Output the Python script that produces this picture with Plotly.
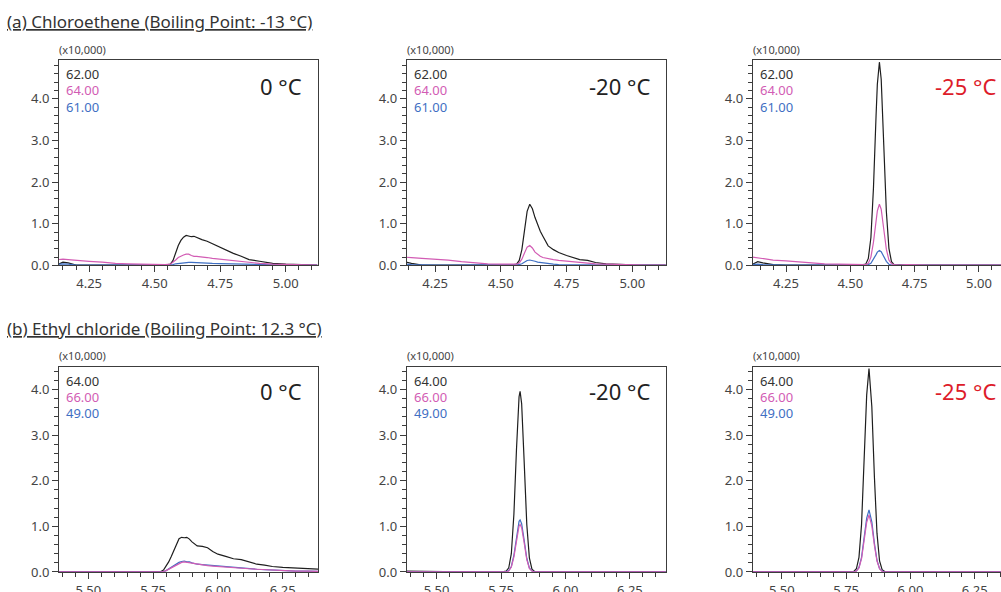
import plotly.graph_objects as go

W, H = 1001, 602
SY = H / 592.0  # vertical factor between the reference picture and the figure

# ---------------- data ----------------
# (a) Chloroethene, 0 °C
a0_x = [4.13, 4.15, 4.17, 4.20, 4.25, 4.30, 4.35, 4.40, 4.45, 4.50, 4.54, 4.56, 4.57, 4.58, 4.59, 4.60, 4.61, 4.62,
        4.63, 4.64, 4.65, 4.66, 4.68, 4.70, 4.72, 4.75, 4.78, 4.80, 4.83, 4.86, 4.90, 4.95, 5.00, 5.05, 5.12]
a0_62 = [0.02, 0.08, 0.06, 0.01, 0.01, 0.01, 0.01, 0.01, 0.01, 0.01, 0.01, 0.03, 0.12, 0.30, 0.48, 0.60, 0.68, 0.72,
         0.71, 0.69, 0.70, 0.67, 0.62, 0.58, 0.52, 0.44, 0.35, 0.29, 0.22, 0.14, 0.10, 0.05, 0.03, 0.02, 0.01]
a0_64 = [0.14, 0.15, 0.14, 0.12, 0.10, 0.08, 0.05, 0.04, 0.03, 0.03, 0.02, 0.03, 0.07, 0.13, 0.19, 0.23, 0.25, 0.27,
         0.27, 0.24, 0.22, 0.22, 0.21, 0.19, 0.17, 0.15, 0.12, 0.11, 0.09, 0.07, 0.05, 0.03, 0.02, 0.02, 0.01]
a0_61 = [0.03, 0.04, 0.03, 0.01, 0.01, 0.01, 0.01, 0.01, 0.01, 0.01, 0.01, 0.01, 0.02, 0.04, 0.05, 0.06, 0.07, 0.07,
         0.075, 0.075, 0.07, 0.07, 0.065, 0.06, 0.05, 0.045, 0.04, 0.035, 0.03, 0.02, 0.015, 0.01, 0.01, 0.01, 0.01]

# (a) Chloroethene, -20 °C
a20_x = [4.13, 4.14, 4.16, 4.20, 4.25, 4.30, 4.35, 4.40, 4.45, 4.50, 4.54, 4.56, 4.57, 4.58, 4.59, 4.60, 4.61, 4.62,
         4.63, 4.64, 4.65, 4.66, 4.68, 4.70, 4.72, 4.75, 4.78, 4.80, 4.83, 4.86, 4.90, 4.95, 5.00, 5.05, 5.13]
a20_62 = [0.05, 0.08, 0.05, 0.01, 0.01, 0.01, 0.01, 0.01, 0.01, 0.01, 0.01, 0.03, 0.12, 0.38, 0.85, 1.30, 1.47, 1.36,
          1.15, 0.96, 0.82, 0.70, 0.47, 0.38, 0.31, 0.24, 0.17, 0.14, 0.12, 0.07, 0.04, 0.02, 0.015, 0.01, 0.01]
a20_64 = [0.20, 0.20, 0.19, 0.17, 0.15, 0.13, 0.09, 0.06, 0.04, 0.03, 0.02, 0.03, 0.06, 0.15, 0.30, 0.44, 0.48, 0.42,
          0.32, 0.26, 0.22, 0.19, 0.16, 0.14, 0.12, 0.10, 0.08, 0.07, 0.05, 0.04, 0.03, 0.02, 0.01, 0.01, 0.01]
a20_61 = [0.02, 0.03, 0.02, 0.01, 0.01, 0.01, 0.01, 0.01, 0.01, 0.01, 0.01, 0.01, 0.02, 0.04, 0.08, 0.12, 0.13, 0.12,
          0.10, 0.08, 0.07, 0.06, 0.04, 0.03, 0.02, 0.02, 0.01, 0.01, 0.01, 0.01, 0.01, 0.01, 0.01, 0.01, 0.01]

# (a) Chloroethene, -25 °C
a25_x = [4.12, 4.14, 4.16, 4.20, 4.25, 4.30, 4.35, 4.40, 4.45, 4.50, 4.54, 4.56, 4.57, 4.58, 4.59, 4.60, 4.605, 4.613,
         4.62, 4.63, 4.64, 4.65, 4.66, 4.67, 4.69, 4.72, 4.75, 4.80, 4.90, 5.00, 5.09]
a25_62 = [0.03, 0.09, 0.06, 0.02, 0.01, 0.01, 0.01, 0.01, 0.01, 0.01, 0.01, 0.03, 0.17, 0.67, 1.87, 3.59, 4.35, 4.88,
          4.47, 2.89, 1.30, 0.41, 0.09, 0.02, 0.01, 0.01, 0.01, 0.01, 0.01, 0.01, 0.01]
a25_64 = [0.20, 0.18, 0.16, 0.13, 0.11, 0.08, 0.06, 0.04, 0.03, 0.02, 0.02, 0.02, 0.05, 0.20, 0.56, 1.08, 1.31, 1.47,
          1.35, 0.87, 0.39, 0.13, 0.04, 0.02, 0.01, 0.02, 0.01, 0.01, 0.01, 0.01, 0.01]
a25_61 = [0.02, 0.03, 0.02, 0.01, 0.01, 0.01, 0.01, 0.01, 0.01, 0.01, 0.01, 0.01, 0.02, 0.05, 0.14, 0.26, 0.32, 0.36,
          0.33, 0.21, 0.10, 0.03, 0.01, 0.01, 0.01, 0.01, 0.01, 0.01, 0.01, 0.01, 0.01]

# (b) Ethyl chloride, 0 °C
b0_x = [5.38, 5.45, 5.50, 5.55, 5.60, 5.65, 5.70, 5.75, 5.78, 5.79, 5.80, 5.81, 5.82, 5.83, 5.84, 5.85, 5.86, 5.87,
        5.88, 5.89, 5.90, 5.92, 5.94, 5.96, 5.98, 6.00, 6.03, 6.06, 6.09, 6.12, 6.15, 6.18, 6.21, 6.25, 6.30, 6.35, 6.39]
b0_64 = [0.01, 0.01, 0.01, 0.01, 0.00, 0.00, 0.00, 0.00, 0.01, 0.04, 0.12, 0.22, 0.34, 0.47, 0.60, 0.73, 0.76, 0.75,
         0.76, 0.72, 0.66, 0.57, 0.56, 0.53, 0.45, 0.39, 0.34, 0.29, 0.27, 0.22, 0.17, 0.15, 0.12, 0.10, 0.08, 0.07, 0.06]
b0_66 = [0.00, 0.00, 0.00, 0.00, 0.00, 0.00, 0.00, 0.00, 0.00, 0.01, 0.03, 0.06, 0.09, 0.12, 0.16, 0.19, 0.21, 0.22,
         0.21, 0.20, 0.19, 0.17, 0.15, 0.14, 0.13, 0.12, 0.10, 0.09, 0.08, 0.07, 0.06, 0.05, 0.04, 0.03, 0.02, 0.02, 0.01]
b0_49 = [0.00, 0.00, 0.00, 0.00, 0.00, 0.00, 0.00, 0.00, 0.00, 0.01, 0.03, 0.07, 0.10, 0.13, 0.17, 0.21, 0.23, 0.24,
         0.22, 0.22, 0.20, 0.17, 0.16, 0.15, 0.13, 0.12, 0.11, 0.09, 0.08, 0.07, 0.06, 0.05, 0.04, 0.03, 0.02, 0.02, 0.01]

# (b) Ethyl chloride, -20 °C
b20_x = [5.38, 5.45, 5.50, 5.55, 5.60, 5.65, 5.70, 5.74, 5.76, 5.77, 5.78, 5.79, 5.80, 5.81, 5.82, 5.824, 5.83, 5.84,
         5.85, 5.86, 5.87, 5.88, 5.89, 5.91, 5.95, 6.00, 6.05, 6.10, 6.20, 6.30, 6.39]
b20_64 = [0.02, 0.01, 0.01, 0.00, 0.00, 0.00, 0.00, 0.00, 0.01, 0.02, 0.09, 0.40, 1.27, 2.69, 3.84, 3.96, 3.69, 2.39,
          1.04, 0.31, 0.06, 0.01, 0.00, 0.00, 0.00, 0.01, 0.00, 0.00, 0.00, 0.00, 0.00]
b20_66 = [0.00, 0.00, 0.00, 0.00, 0.00, 0.00, 0.00, 0.00, 0.00, 0.00, 0.02, 0.11, 0.33, 0.71, 1.01, 1.04, 0.97, 0.63,
          0.27, 0.08, 0.02, 0.00, 0.00, 0.00, 0.00, 0.00, 0.00, 0.00, 0.00, 0.00, 0.00]
b20_49 = [0.00, 0.00, 0.00, 0.00, 0.00, 0.00, 0.00, 0.00, 0.00, 0.01, 0.03, 0.12, 0.37, 0.77, 1.11, 1.14, 1.06, 0.69,
          0.30, 0.09, 0.02, 0.01, 0.00, 0.00, 0.00, 0.00, 0.00, 0.00, 0.00, 0.00, 0.00]

# (b) Ethyl chloride, -25 °C
b25_x = [5.38, 5.45, 5.50, 5.55, 5.60, 5.65, 5.70, 5.75, 5.77, 5.78, 5.79, 5.80, 5.81, 5.82, 5.83, 5.839, 5.85, 5.86,
         5.87, 5.88, 5.89, 5.90, 5.92, 5.95, 6.00, 6.05, 6.10, 6.20, 6.30, 6.36]
b25_64 = [0.01, 0.01, 0.00, 0.00, 0.00, 0.00, 0.00, 0.00, 0.00, 0.01, 0.07, 0.32, 1.04, 2.39, 3.88, 4.46, 3.62, 2.08,
          0.85, 0.24, 0.05, 0.01, 0.00, 0.00, 0.01, 0.00, 0.00, 0.00, 0.00, 0.00]
b25_66 = [0.00, 0.00, 0.00, 0.00, 0.00, 0.00, 0.00, 0.00, 0.00, 0.00, 0.02, 0.09, 0.29, 0.67, 1.09, 1.25, 1.01, 0.58,
          0.24, 0.07, 0.01, 0.00, 0.00, 0.00, 0.00, 0.00, 0.00, 0.00, 0.00, 0.00]
b25_49 = [0.00, 0.00, 0.00, 0.00, 0.00, 0.00, 0.00, 0.00, 0.00, 0.00, 0.02, 0.10, 0.32, 0.73, 1.18, 1.36, 1.10, 0.63,
          0.26, 0.07, 0.02, 0.00, 0.00, 0.00, 0.00, 0.00, 0.00, 0.00, 0.00, 0.00]

titles = ["(a) Chloroethene (Boiling Point: -13 °C)", "(b) Ethyl chloride (Boiling Point: 12.3 °C)"]
temps = ["0 °C", "-20 °C", "-25 °C"]
ions_a = ["62.00", "64.00", "61.00"]
ions_b = ["64.00", "66.00", "49.00"]
scale_label = "(x10,000)"
x_ticks_a = [4.25, 4.50, 4.75, 5.00]
x_ticks_b = [5.50, 5.75, 6.00, 6.25]
y_ticks = [0.0, 1.0, 2.0, 3.0, 4.0]

# ---------------- styling / layout ----------------
C_BLACK = "#1e1e1e"
C_PINK = "#d25cb4"
C_BLUE = "#3f6fc3"
TXT = "#444444"
AXC = "#3c3c3c"
FONT = "Noto Sans"

panel_left = [59, 406.7, 752.7]
panel_w = 259
row_top = [60, 366]
row_h = 205

x_ranges = [[4.135, 5.123], [4.142, 5.127], [4.1206, 5.0856],
            [5.387, 6.386], [5.384, 6.389], [5.387, 6.352]]
y_ranges = [[0, 4.93], [0, 4.93], [0, 4.93], [0, 4.5], [0, 4.5], [0, 4.5]]

panels = [
    (a0_x, [a0_62, a0_61, a0_64]),
    (a20_x, [a20_62, a20_61, a20_64]),
    (a25_x, [a25_62, a25_61, a25_64]),
    (b0_x, [b0_64, b0_49, b0_66]),
    (b20_x, [b20_64, b20_49, b20_66]),
    (b25_x, [b25_64, b25_49, b25_66]),
]
colors = [C_BLACK, C_BLUE, C_PINK]


def px(xp):
    return xp / W


def py(yp):
    # yp is a pixel position measured on the 592-px-high reference
    return 1 - (yp * SY) / H


fig = go.Figure()
annotations = []

for i, (xs, ys_list) in enumerate(panels):
    row, col = divmod(i, 3)
    n = i + 1
    xa = "x" if n == 1 else f"x{n}"
    ya = "y" if n == 1 else f"y{n}"
    for ys, c in zip(ys_list, colors):
        fig.add_trace(go.Scatter(x=xs, y=ys, mode="lines", xaxis=xa, yaxis=ya,
                                 line=dict(color=c, width=1.2), showlegend=False,
                                 hoverinfo="skip"))
    left = panel_left[col]
    right = min(left + panel_w, W)
    top = row_top[row]
    xd = [px(left), px(right)]
    yd = [py(top + row_h), py(top)]
    xt = x_ticks_a if row == 0 else x_ticks_b
    xkey = "xaxis" if n == 1 else f"xaxis{n}"
    ykey = "yaxis" if n == 1 else f"yaxis{n}"
    fig.layout[xkey] = dict(
        domain=xd, range=x_ranges[i], anchor=ya, showgrid=False, zeroline=False,
        showline=True, linecolor=AXC, linewidth=1, mirror=True,
        tickmode="array", tickvals=xt, ticktext=[f"{v:.2f}" for v in xt],
        ticks="outside", ticklen=6, tickcolor=AXC, tickwidth=1,
        tickfont=dict(family=FONT, size=13, color=TXT),
        minor=dict(dtick=0.05, tick0=4.0, ticks="outside", ticklen=4, tickcolor=AXC, tickwidth=1),
    )
    fig.layout[ykey] = dict(
        domain=yd, range=y_ranges[i], anchor=xa, showgrid=False, zeroline=False,
        showline=True, linecolor=AXC, linewidth=1, mirror=(col != 2),
        tickmode="array", tickvals=y_ticks, ticktext=[f"{v:.1f}" for v in y_ticks],
        ticks="outside", ticklen=6, tickcolor=AXC, tickwidth=1,
        tickfont=dict(family=FONT, size=13, color=TXT),
        minor=dict(dtick=0.2, tick0=0, ticks="outside", ticklen=4, tickcolor=AXC, tickwidth=1),
    )
    # scale label
    annotations.append(dict(text=scale_label, xref="paper", yref="paper", x=px(left - 2), y=py(top - 11),
                            xanchor="left", yanchor="middle", showarrow=False,
                            font=dict(family=FONT, size=11, color=TXT)))
    ions = ions_a if row == 0 else ions_b
    ion_cols = [C_BLACK, C_PINK, C_BLUE]
    for k, (t, c) in enumerate(zip(ions, ion_cols)):
        annotations.append(dict(text=t, xref="paper", yref="paper", x=px(left + 5), y=py(top + 14 + 16.3 * k),
                                xanchor="left", yanchor="middle", showarrow=False,
                                font=dict(family=FONT, size=13, color="#333333" if k == 0 else c)))
    annotations.append(dict(text=temps[col], xref="paper", yref="paper", x=px(left + panel_w - 14),
                            y=py(top + 26 - 2 * row), xanchor="right", yanchor="middle", showarrow=False,
                            font=dict(family=FONT, size=22, color="#dd1c2a" if col == 2 else "#222222")))

annotations.append(dict(text=f"<u>{titles[0]}</u>", xref="paper", yref="paper", x=px(5), y=py(21),
                        xanchor="left", yanchor="middle", showarrow=False,
                        font=dict(family=FONT, size=17, color="#333333")))
annotations.append(dict(text=f"<u>{titles[1]}</u>", xref="paper", yref="paper", x=px(5), y=py(328),
                        xanchor="left", yanchor="middle", showarrow=False,
                        font=dict(family=FONT, size=17, color="#333333")))

fig.update_layout(width=W, height=H, margin=dict(l=0, r=0, t=0, b=0),
                  paper_bgcolor="white", plot_bgcolor="white", annotations=annotations,
                  font=dict(family=FONT, color=TXT))

css_js = (
    "var s=document.createElement('style');"
    "s.textContent='html,body{margin:0!important;padding:0!important;overflow:hidden!important;}"
    "body>div{margin:0;padding:0;line-height:0;}';"
    "document.head.appendChild(s);"
)
fig.write_html("out.html", config={"displayModeBar": False, "responsive": False},
               post_script=css_js)
